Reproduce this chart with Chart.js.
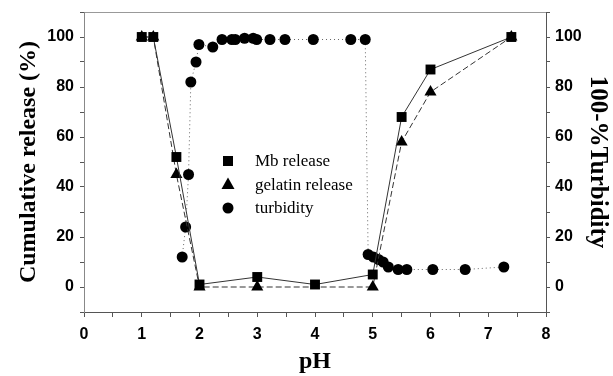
<!DOCTYPE html>
<html>
<head>
<meta charset="utf-8">
<script src="https://cdn.jsdelivr.net/npm/chart.js@4/dist/chart.umd.min.js"></script>
<style>
  html, body { margin: 0; padding: 0; background: #fff; }
  canvas { display: block; }
</style>
</head>
<body>
<canvas id="myChart" width="613" height="376"></canvas>
<script>
var ctx = document.getElementById("myChart");

// release of Mb (squares)
const mbPH = [1.0, 1.2, 1.6, 2.0, 3.0, 4.0, 5.0, 5.5, 6.0, 7.4];
const mbRelease = [100, 100, 52, 1, 4, 1, 5, 68, 87, 100];

// release of gelatin (triangles)
const gelPH = [1.0, 1.2, 1.6, 2.0, 3.0, 5.0, 5.5, 6.0, 7.4];
const gelRelease = [100, 100, 45, 0, 0, 0, 58, 78, 100];

// 100 - % turbidity (circles, right axis)
const turbPH = [1.70, 1.76, 1.81, 1.85, 1.94, 1.99, 2.23, 2.39, 2.56, 2.62, 2.78, 2.93, 2.99, 3.22, 3.48, 3.97, 4.62, 4.87,
                4.92, 5.01, 5.10, 5.18, 5.27, 5.44, 5.59, 6.04, 6.60, 7.27];
const turbidity = [12, 24, 45, 82, 90, 97, 96, 99, 99, 99, 99.5, 99.5, 99, 99, 99, 99, 99, 99,
                   13, 12, 11, 10, 8, 7, 7, 7, 7, 8];

const xTicks = [0, 1, 2, 3, 4, 5, 6, 7, 8];
const yTicks = [0, 20, 40, 60, 80, 100];

function toPoints(xs, ys) {
	let pts = [];
	for (let i = 0; i < xs.length; i += 1) {
		pts.push({x: xs[i], y: ys[i]});
	}
	return pts;
}

// fixed box sizes so the plot frame sits where it should
function fixWidth(w) {
	return function (s) {
		s.width = w;
		s.paddingTop = 0;
		s.paddingBottom = 0;
	};
}
function fixHeight(h) {
	return function (s) {
		s.height = h;
		s.paddingLeft = 0;
		s.paddingRight = 0;
	};
}

const tickFont = {family: "'Liberation Sans', Arial, sans-serif", size: 16, weight: 'bold'};
const titleFont = {family: "'Liberation Serif', 'Times New Roman', serif", size: 24, weight: 'bold'};
const axisColor = '#555';

// legend drawn inside the plot area
const innerLegend = {
	id: 'innerLegend',
	afterDatasetsDraw(chart) {
		const c = chart.ctx;
		const area = chart.chartArea;
		const x0 = area.left + 144;
		const y0 = area.top + 149;
		const rows = [
			{text: 'Mb release', shape: 'rect'},
			{text: 'gelatin release', shape: 'triangle'},
			{text: 'turbidity', shape: 'circle'}
		];
		c.save();
		c.fillStyle = '#000';
		c.font = "17px 'Liberation Serif', 'Times New Roman', serif";
		c.textBaseline = 'middle';
		rows.forEach(function (row, i) {
			const y = y0 + i * 23.5;
			c.beginPath();
			if (row.shape === 'rect') {
				c.rect(x0 - 5, y - 5, 10, 10);
			} else if (row.shape === 'triangle') {
				c.moveTo(x0, y - 7);
				c.lineTo(x0 + 6.5, y + 4.5);
				c.lineTo(x0 - 6.5, y + 4.5);
				c.closePath();
			} else {
				c.arc(x0, y, 5.5, 0, Math.PI * 2);
			}
			c.fill();
			c.fillText(row.text, x0 + 27, y + 1);
		});
		c.restore();
	}
};

const objToChart = {
	type: 'line',
	data: {
		datasets: [
			{
				label: 'Mb release',
				data: toPoints(mbPH, mbRelease),
				yAxisID: 'y',
				borderColor: '#333',
				borderWidth: 1,
				backgroundColor: '#000',
				pointStyle: 'rect',
				pointRadius: 7,
				pointBorderWidth: 0,
				tension: 0
			},
			{
				label: 'gelatin release',
				data: toPoints(gelPH, gelRelease),
				yAxisID: 'y',
				borderColor: '#333',
				borderWidth: 1,
				borderDash: [6, 3],
				backgroundColor: '#000',
				pointStyle: 'triangle',
				pointRadius: 7,
				pointBorderWidth: 0,
				tension: 0
			},
			{
				label: 'turbidity',
				data: toPoints(turbPH, turbidity),
				yAxisID: 'y2',
				borderColor: '#666',
				borderWidth: 1,
				borderDash: [1, 3],
				backgroundColor: '#000',
				pointStyle: 'circle',
				pointRadius: 5.5,
				pointBorderWidth: 0,
				tension: 0
			}
		]
	},
	options: {
		responsive: false,
		animation: false,
		layout: {padding: {top: 12, left: 0, right: 0, bottom: 0}},
		plugins: {
			legend: {display: false},
			tooltip: {enabled: false}
		},
		scales: {
			x: {
				type: 'linear',
				position: 'bottom',
				min: 0,
				max: 8,
				afterFit: fixHeight(64),
				afterBuildTicks: function (s) {
					let t = [];
					for (let v = 0; v <= 16; v += 1) t.push({value: v / 2});
					s.ticks = t;
				},
				ticks: {
					font: tickFont,
					color: '#000',
					padding: 8,
					maxRotation: 0,
					autoSkip: false,
					callback: function (v) { return xTicks.indexOf(v) >= 0 ? String(v) : ''; }
				},
				grid: {drawOnChartArea: false, tickLength: 5, color: axisColor},
				border: {color: axisColor},
				title: {display: true, text: 'pH', font: titleFont, color: '#000', padding: {top: 0, bottom: 0}}
			},
			xTop: {
				type: 'linear',
				position: 'top',
				min: 0,
				max: 8,
				afterFit: fixHeight(0),
				ticks: {display: false},
				grid: {drawOnChartArea: false, drawTicks: false},
				border: {color: '#999'}
			},
			y: {
				type: 'linear',
				position: 'left',
				min: -10,
				max: 110,
				afterFit: fixWidth(84),
				afterBuildTicks: function (s) {
					let t = [];
					for (let v = -10; v <= 110; v += 10) t.push({value: v});
					s.ticks = t;
				},
				ticks: {
					font: tickFont,
					color: '#000',
					padding: 6,
					autoSkip: false,
					callback: function (v) { return yTicks.indexOf(v) >= 0 ? String(v) : ''; }
				},
				grid: {drawOnChartArea: false, tickLength: 4, color: axisColor},
				border: {color: '#888'},
				title: {display: true, text: 'Cumulative release (%)', font: titleFont, color: '#000', padding: {top: 14}}
			},
			y2: {
				type: 'linear',
				position: 'right',
				min: -10,
				max: 110,
				afterFit: fixWidth(67),
				afterBuildTicks: function (s) {
					let t = [];
					for (let v = -10; v <= 110; v += 10) t.push({value: v});
					s.ticks = t;
				},
				ticks: {
					font: tickFont,
					color: '#000',
					padding: 5,
					autoSkip: false,
					callback: function (v) { return yTicks.indexOf(v) >= 0 ? String(v) : ''; }
				},
				grid: {drawOnChartArea: false, tickLength: 4, color: axisColor},
				border: {color: axisColor},
				title: {display: true, text: '100-%Turbidity', font: {family: titleFont.family, size: 25, weight: 'bold'}, color: '#000', padding: {top: 1}}
			}
		}
	},
	plugins: [innerLegend]
};

var myChart = new Chart(ctx, objToChart);
</script>
</body>
</html>
